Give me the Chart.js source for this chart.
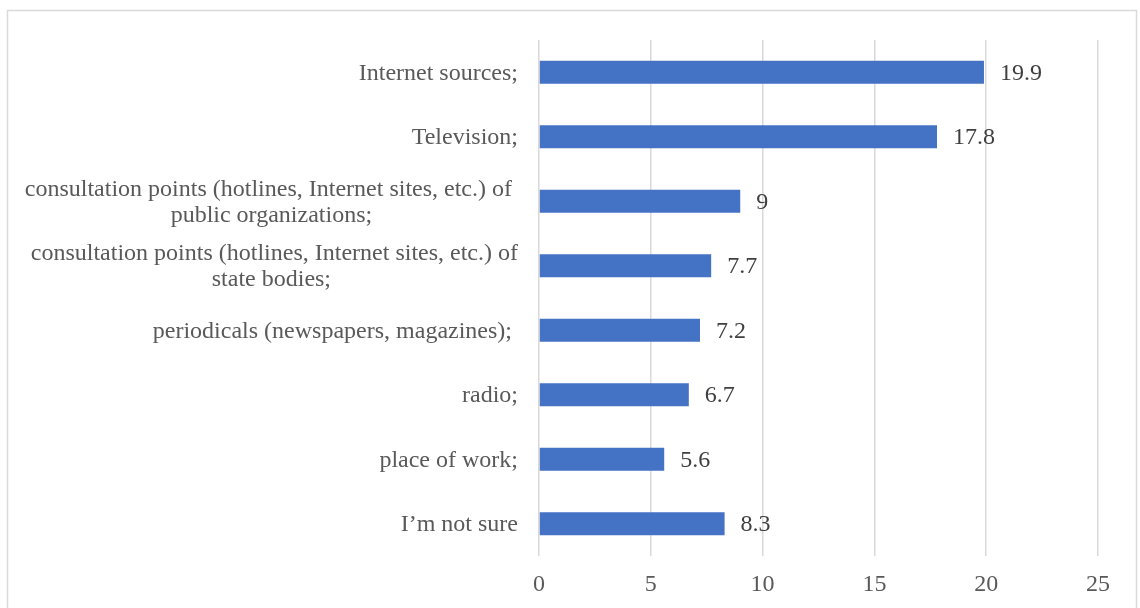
<!DOCTYPE html>
<html>
<head>
<meta charset="utf-8">
<script src="https://cdn.jsdelivr.net/npm/chart.js@4.4.1/dist/chart.umd.min.js"></script>
<style>
  html, body { margin: 0; padding: 0; background: #ffffff; }
  canvas { display: block; }
</style>
</head>
<body>
<canvas id="chart" width="1140" height="608"></canvas>
<script>
// Sources of information (%), top to bottom
const categories = [
  ['Internet sources;'],
  ['Television;'],
  ['consultation points (hotlines, Internet sites, etc.) of ', 'public organizations;'],
  [' consultation points (hotlines, Internet sites, etc.) of', 'state bodies;'],
  ['periodicals (newspapers, magazines); '],
  ['radio;'],
  ['place of work;'],
  ['I\u2019m not sure']
];
const shares = [19.9, 17.8, 9, 7.7, 7.2, 6.7, 5.6, 8.3];
const valueLabels = ['19.9', '17.8', '9', '7.7', '7.2', '6.7', '5.6', '8.3'];
const xTicks = [0, 5, 10, 15, 20, 25];

const FONT = '"Liberation Serif", "Times New Roman", serif';
const FONT_SIZE = 24;

// White page with the light frame around the chart
const framePlugin = {
  id: 'frame',
  beforeDraw(chart) {
    const ctx = chart.ctx;
    ctx.save();
    ctx.fillStyle = '#ffffff';
    ctx.fillRect(0, 0, chart.width, chart.height);
    ctx.strokeStyle = '#d9d9d9';
    ctx.lineWidth = 1.5;
    ctx.strokeRect(7.5, 10.5, 1129, 700);
    ctx.restore();
  }
};

// Category labels: block right-aligned to the axis, lines centred inside the block
const categoryLabelPlugin = {
  id: 'categoryLabels',
  afterDraw(chart) {
    const ctx = chart.ctx;
    const yScale = chart.scales.y;
    const rightEdge = chart.chartArea.left - 21;
    const lineGap = 26;
    ctx.save();
    ctx.font = FONT_SIZE + 'px ' + FONT;
    ctx.fillStyle = '#595959';
    ctx.textBaseline = 'middle';
    ctx.textAlign = 'center';
    chart.data.labels.forEach((lines, i) => {
      const yc = yScale.getPixelForTick(i) + 1;
      const widths = lines.map(l => ctx.measureText(l).width);
      const blockW = Math.max(...widths);
      const cx = rightEdge - blockW / 2;
      const y0 = yc - (lines.length - 1) * lineGap / 2;
      lines.forEach((l, k) => ctx.fillText(l, cx, y0 + k * lineGap));
    });
    ctx.restore();
  }
};

// Value labels just past the end of each bar
const valueLabelPlugin = {
  id: 'valueLabels',
  afterDatasetsDraw(chart) {
    const ctx = chart.ctx;
    const meta = chart.getDatasetMeta(0);
    ctx.save();
    ctx.font = FONT_SIZE + 'px ' + FONT;
    ctx.fillStyle = '#404040';
    ctx.textBaseline = 'middle';
    ctx.textAlign = 'left';
    meta.data.forEach((bar, i) => {
      ctx.fillText(valueLabels[i], bar.x + 16, bar.y + 1);
    });
    ctx.restore();
  }
};

new Chart(document.getElementById('chart'), {
  type: 'bar',
  data: {
    labels: categories,
    datasets: [{
      data: shares,
      backgroundColor: '#4472C4',
      borderWidth: 0,
      barPercentage: 0.36,
      categoryPercentage: 1
    }]
  },
  options: {
    indexAxis: 'y',
    responsive: false,
    animation: false,
    events: [],
    layout: { padding: { top: 40, right: 42, left: 0, bottom: 0 } },
    plugins: {
      legend: { display: false },
      tooltip: { enabled: false },
      title: { display: false }
    },
    scales: {
      x: {
        min: 0,
        max: 25,
        afterBuildTicks(scale) {
          scale.ticks = xTicks.map(v => ({ value: v }));
        },
        ticks: {
          font: { family: FONT, size: FONT_SIZE },
          color: '#595959',
          padding: 14,
          maxRotation: 0
        },
        grid: { color: '#d9d9d9', lineWidth: 1.5, drawTicks: false },
        border: { display: false },
        afterFit(scale) { scale.height = 52; }
      },
      y: {
        ticks: { display: false },
        grid: { display: false },
        border: { display: false },
        afterFit(scale) { scale.width = 539; }
      }
    }
  },
  plugins: [framePlugin, categoryLabelPlugin, valueLabelPlugin]
});
</script>
</body>
</html>
